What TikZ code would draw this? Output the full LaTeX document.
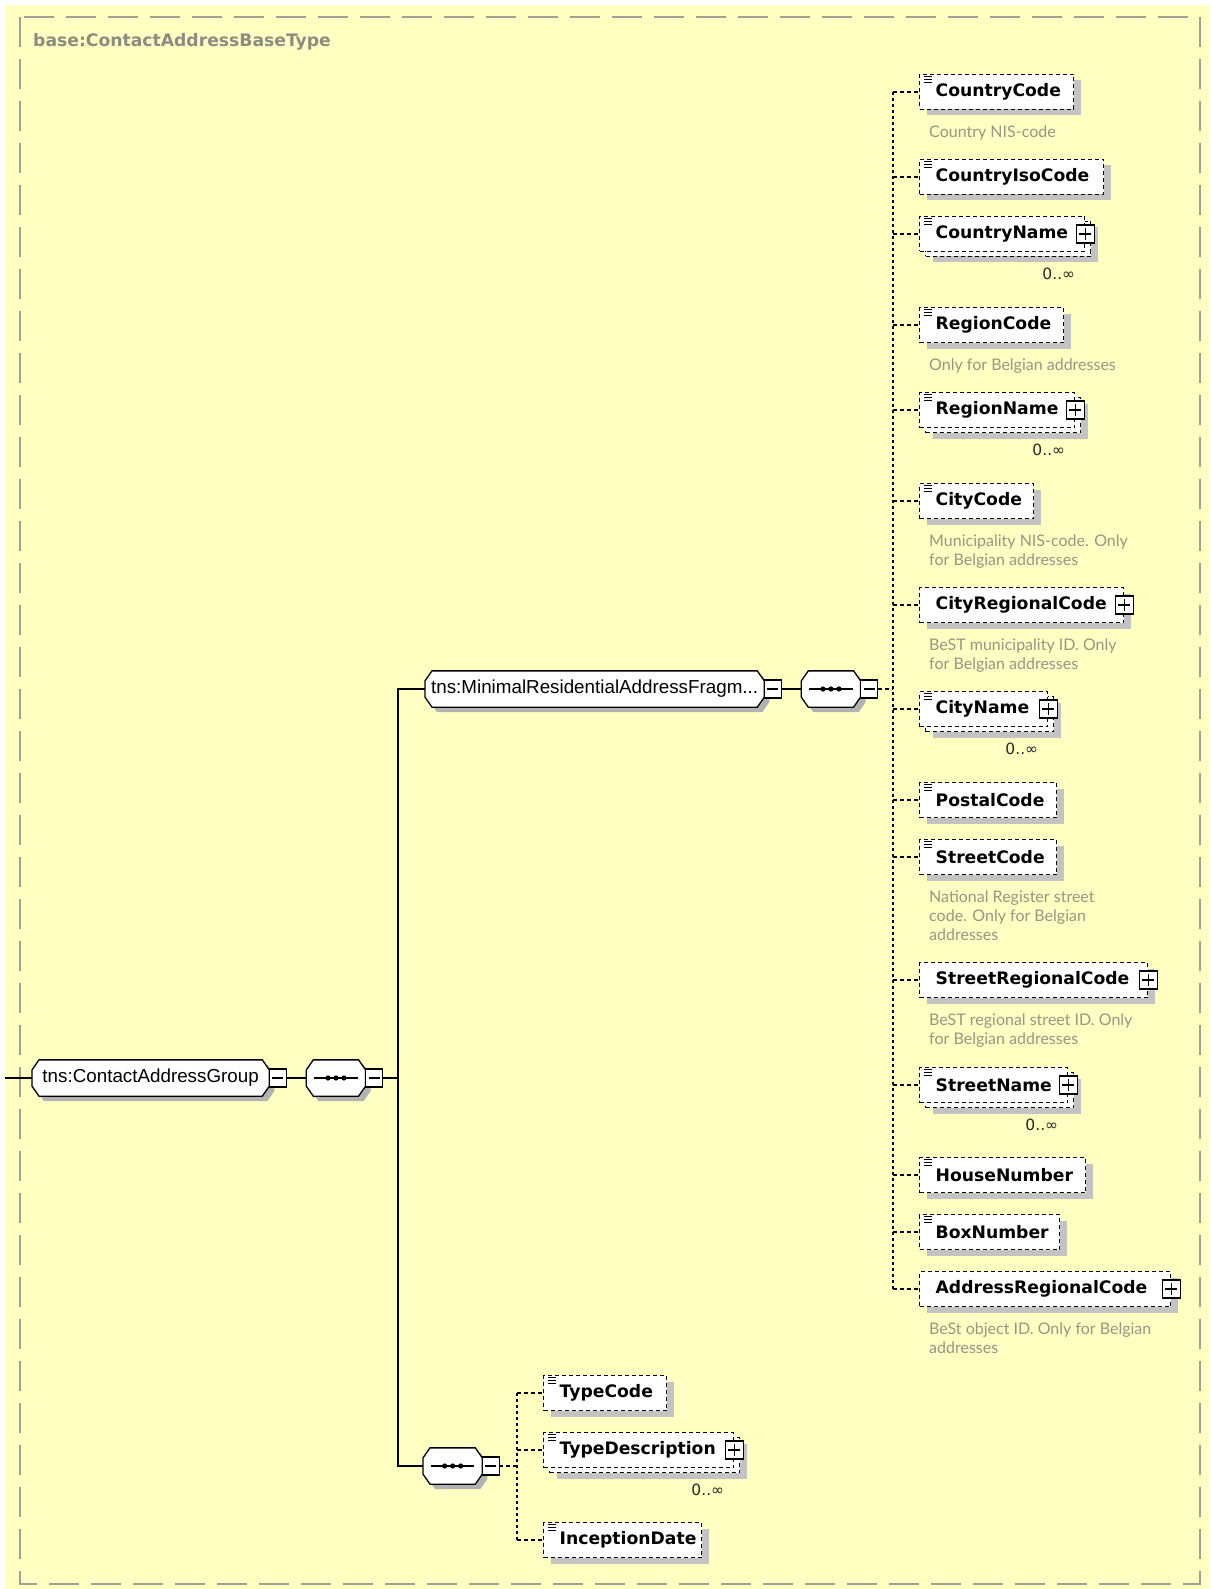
\documentclass[tikz,border=0pt]{standalone}
\usepackage{fontspec}
\usepackage{tikz}
\usetikzlibrary{positioning,shadows}
\newfontfamily\dejavu{DejaVu Sans}
\newfontfamily\lato{Lato}
\newfontfamily\libsans{Liberation Sans}
\definecolor{bgyellow}{RGB}{255,255,194}
\definecolor{framegray}{RGB}{160,160,150}
\definecolor{descgray}{RGB}{150,150,135}
\definecolor{titlegray}{RGB}{140,140,130}
\definecolor{shadowgray}{RGB}{195,195,195}

% rectangle with cut corners for the group and sequence nodes
\makeatletter
\pgfdeclareshape{cutbox}{
  \inheritsavedanchors[from=rectangle]
  \inheritanchorborder[from=rectangle]
  \inheritanchor[from=rectangle]{center}
  \inheritanchor[from=rectangle]{north}
  \inheritanchor[from=rectangle]{south}
  \inheritanchor[from=rectangle]{east}
  \inheritanchor[from=rectangle]{west}
  \inheritanchor[from=rectangle]{north east}
  \inheritanchor[from=rectangle]{north west}
  \inheritanchor[from=rectangle]{south east}
  \inheritanchor[from=rectangle]{south west}
  \inheritanchor[from=rectangle]{base}
  \inheritanchor[from=rectangle]{mid}
  \backgroundpath{%
    \southwest \pgf@xa=\pgf@x \pgf@ya=\pgf@y
    \northeast \pgf@xb=\pgf@x \pgf@yb=\pgf@y
    \pgfpathmoveto{\pgfpoint{\dimexpr\pgf@xa+7pt\relax}{\pgf@ya}}%
    \pgfpathlineto{\pgfpoint{\dimexpr\pgf@xb-7pt\relax}{\pgf@ya}}%
    \pgfpathlineto{\pgfpoint{\pgf@xb}{\dimexpr\pgf@ya+10pt\relax}}%
    \pgfpathlineto{\pgfpoint{\pgf@xb}{\dimexpr\pgf@yb-10pt\relax}}%
    \pgfpathlineto{\pgfpoint{\dimexpr\pgf@xb-7pt\relax}{\pgf@yb}}%
    \pgfpathlineto{\pgfpoint{\dimexpr\pgf@xa+7pt\relax}{\pgf@yb}}%
    \pgfpathlineto{\pgfpoint{\pgf@xa}{\dimexpr\pgf@yb-10pt\relax}}%
    \pgfpathlineto{\pgfpoint{\pgf@xa}{\dimexpr\pgf@ya+10pt\relax}}%
    \pgfpathclose
  }
}
\makeatother

\tikzset{
  elem/.style={rectangle, draw=black, fill=white, line width=1.3pt,
               dash pattern=on 4pt off 3pt, minimum height=35pt,
               inner xsep=16pt, inner ysep=0pt, anchor=west, align=left,
               text width={#1pt-32pt},
               font=\dejavu\bfseries\fontsize{17.2}{20}\selectfont},
  elone/.style={elem=#1, drop shadow={shadow xshift=7pt, shadow yshift=-6pt,
               fill=shadowgray, opacity=1}},
  elmany/.style={elem=#1,
               general shadow={shadow xshift=13pt, shadow yshift=-11pt,
                               fill=shadowgray, opacity=1},
               general shadow={shadow xshift=6pt, shadow yshift=-5pt,
                               fill=white, draw=black, line width=1.3pt,
                               dash pattern=on 4pt off 3pt}},
  eq/.style={path picture={
      \foreach \k in {2,5,8}
        \draw[black, solid, line width=1pt] ([shift={(4,\k)}]path picture bounding box.north west) -- ++(8,0);}},
  grp/.style={cutbox, draw=black, fill=white, line width=1.3pt,
              minimum height=35pt, inner sep=0pt,
              font=\libsans\fontsize{18.8}{22}\selectfont,
              drop shadow={shadow xshift=5pt, shadow yshift=-5pt,
                           fill=black!30, opacity=1}},
  seq/.style={grp, minimum width=58pt, path picture={
      \draw[black, solid, line width=1.3pt] ([xshift=8pt]path picture bounding box.west)
        -- ([xshift=-8pt]path picture bounding box.east);
      \foreach \dd in {-8,0,8}
        \fill[black] ([xshift=\dd pt]path picture bounding box.center) circle (2.6pt);}},
  minusbox/.style={rectangle, draw=black, fill=white, line width=1.2pt,
              minimum width=17pt, minimum height=18pt, inner sep=0pt,
              outer sep=0pt, anchor=west, path picture={
      \draw[black, line width=1.2pt] ([xshift=3pt]path picture bounding box.west)
        -- ([xshift=-3pt]path picture bounding box.east);}},
  plusbox/.style={rectangle, draw=black, fill=white, solid, line width=1.2pt,
              minimum width=18pt, minimum height=18pt, inner sep=0pt,
              outer sep=0pt, path picture={
      \draw[black, line width=1.2pt] ([xshift=3pt]path picture bounding box.west)
        -- ([xshift=-3pt]path picture bounding box.east)
        ([yshift=3pt]path picture bounding box.south)
        -- ([yshift=-3pt]path picture bounding box.north);}},
  desc/.style={inner sep=0pt, align=left, text=descgray,
               font=\lato\fontsize{16}{19}\selectfont},
  occ/.style={inner sep=0pt, text=black!85,
              font=\dejavu\fontsize{15.5}{18}\selectfont},
  conn/.style={draw=black, line width=1.4pt},
  dconn/.style={draw=black, line width=1.3pt, dash pattern=on 4pt off 3pt},
  tconn/.style={draw=black, line width=1.3pt, dash pattern=on 3pt off 3pt}
}

\begin{document}
\begin{tikzpicture}[x=1pt, y=-1pt]
  \useasboundingbox (0,0) rectangle (1210,1589);
  \fill[white] (0,0) rectangle (1210,1589);
  \fill[bgyellow] (5,5) rectangle (1210,1589);
  \draw[framegray, line width=2pt, dash pattern=on 30pt off 12pt]
    (20,17) rectangle (1200,1584);
  \node[anchor=west, inner sep=0pt, text=titlegray,
        font=\dejavu\bfseries\fontsize{17.2}{20}\selectfont] (title) at (33,42)
    {base:ContactAddressBaseType};

  % group / sequence nodes
  \node[grp, minimum width=236pt, anchor=west] (grp) at (32,1078) {tns:ContactAddressGroup};
  \node[minusbox] (grpm) at (grp.east) {};
  \node[seq, right=20pt of grpm] (seq1) {};
  \node[minusbox] (seq1m) at (seq1.east) {};
  \node[grp, minimum width=338pt, anchor=west] (minimal) at (425,689) {tns:MinimalResidentialAddressFragm...};
  \node[minusbox] (minm) at (minimal.east) {};
  \node[seq, right=20pt of minm] (seq2) {};
  \node[minusbox] (seq2m) at (seq2.east) {};
  \node[seq, anchor=west] (seq3) at (423,1466) {};
  \node[minusbox] (seq3m) at (seq3.east) {};

  % elements of the fragment
  \node[elone=154, eq] (cc) at (919,92) {CountryCode};
  \node[desc, below right=15pt and 10pt of cc.south west] (ccd) {Country NIS-code};
  \node[elone=184, eq] (cic) at (919,177) {CountryIsoCode};
  \node[elmany=165, eq] (cn) at (919,234) {CountryName};
  \node[plusbox] (cnp) at (cn.east) {};
  \node[occ, below left=16pt and 10pt of cn.south east] (cno) {0..∞};
  \node[elone=144, eq] (rc) at (919,325) {RegionCode};
  \node[desc, below right=15pt and 10pt of rc.south west] (rcd) {Only for Belgian addresses};
  \node[elmany=155, eq] (rn) at (919,410) {RegionName};
  \node[plusbox] (rnp) at (rn.east) {};
  \node[occ, below left=16pt and 10pt of rn.south east] (rno) {0..∞};
  \node[elone=114, eq] (cyc) at (919,501) {CityCode};
  \node[desc, below right=15pt and 10pt of cyc.south west] (cycd)
    {Municipality NIS-code. Only\\for Belgian addresses};
  \node[elone=204] (cyr) at (919,605) {CityRegionalCode};
  \node[plusbox] (cyrp) at (cyr.east) {};
  \node[desc, below right=15pt and 10pt of cyr.south west] (cyrd)
    {BeST municipality ID. Only\\for Belgian addresses};
  \node[elmany=128, eq] (cyn) at (919,709) {CityName};
  \node[plusbox] (cynp) at (cyn.east) {};
  \node[occ, below left=16pt and 10pt of cyn.south east] (cyno) {0..∞};
  \node[elone=137, eq] (pc) at (919,800) {PostalCode};
  \node[elone=137, eq] (sc) at (919,857) {StreetCode};
  \node[desc, below right=15pt and 10pt of sc.south west] (scd)
    {National Register street\\code. Only for Belgian\\addresses};
  \node[elone=228] (sr) at (919,980) {StreetRegionalCode};
  \node[plusbox] (srp) at (sr.east) {};
  \node[desc, below right=15pt and 10pt of sr.south west] (srd)
    {BeST regional street ID. Only\\for Belgian addresses};
  \node[elmany=148, eq] (sn) at (919,1085) {StreetName};
  \node[plusbox] (snp) at (sn.east) {};
  \node[occ, below left=16pt and 10pt of sn.south east] (sno) {0..∞};
  \node[elone=166, eq] (hn) at (919,1175) {HouseNumber};
  \node[elone=140, eq] (bn) at (919,1232) {BoxNumber};
  \node[elone=251] (arc) at (919,1289) {AddressRegionalCode};
  \node[plusbox] (arcp) at (arc.east) {};
  \node[desc, below right=15pt and 10pt of arc.south west] (arcd)
    {BeSt object ID. Only for Belgian\\addresses};

  % elements of the second sequence
  \node[elone=123, eq] (tc) at (543,1393) {TypeCode};
  \node[elmany=190, eq] (td) at (543,1450) {TypeDescription};
  \node[plusbox] (tdp) at (td.east) {};
  \node[occ, below left=16pt and 10pt of td.south east] (tdo) {0..∞};
  \node[elone=158, eq] (idt) at (543,1540) {InceptionDate};

  % connectors
  \coordinate (in) at (5,1078);
  \coordinate (j1) at (398,1078);
  \coordinate (j2) at (893,689);
  \coordinate (j3) at (517,1466);
  \draw[conn] (in) -- (grp.west);
  \draw[conn] (grpm.east) -- (seq1.west);
  \draw[conn] (seq1m.east) -- (j1);
  \draw[conn] (minimal.west) -- (minimal.west -| j1) -- (seq3.west -| j1) -- (seq3.west);
  \draw[conn] (minm.east) -- (seq2.west);
  \draw[dconn] (seq2m.east) -- (j2);
  \draw[tconn] (cc.west -| j2) -- (arc.west -| j2);
  \foreach \n in {cc,cic,cn,rc,rn,cyc,cyr,cyn,pc,sc,sr,sn,hn,bn,arc}
    \draw[dconn] (\n.west -| j2) -- (\n.west);
  \draw[dconn] (seq3m.east) -- (j3);
  \draw[tconn] (tc.west -| j3) -- (idt.west -| j3);
  \foreach \n in {tc,td,idt}
    \draw[dconn] (\n.west -| j3) -- (\n.west);
\end{tikzpicture}
\end{document}
